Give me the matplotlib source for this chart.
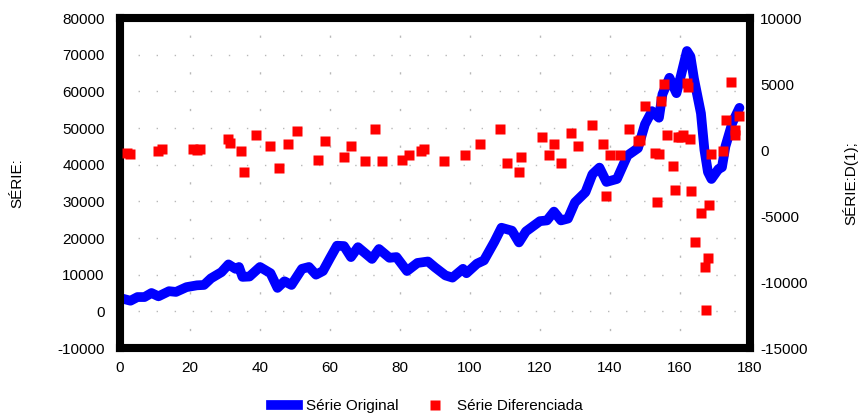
import matplotlib
matplotlib.use("Agg")
import matplotlib.pyplot as plt
from matplotlib.lines import Line2D

plt.rcParams['font.family'] = ['Liberation Sans', 'DejaVu Sans']
plt.rcParams['font.size'] = 11
plt.rcParams['axes.unicode_minus'] = False

# serie original, valores em milhares
x_orig = [0, 1, 3, 5, 7, 9, 11, 14, 16, 19, 22, 24, 26, 29, 31, 33, 34, 35, 37, 40,
          43, 45, 47, 49, 52, 54, 56, 58, 60, 62, 64, 66, 68, 72, 74, 77, 79, 82, 85, 88,
          90, 93, 95, 98, 99, 102, 104, 107, 109, 112, 114, 116, 120, 122, 124, 126, 128,
          130, 133, 135, 137, 139, 142, 145, 148, 150, 152, 154, 155, 157, 159, 160, 162,
          163, 164, 166, 167, 168, 169, 171, 172, 173, 175, 177]
y_orig = [3.6, 3.4, 2.9, 3.9, 3.9, 5.0, 4.1, 5.5, 5.3, 6.6, 7.1, 7.2, 9.0, 10.7, 12.8,
          11.6, 12.1, 9.4, 9.5, 12.1, 10.4, 6.4, 8.2, 7.2, 11.6, 12.1, 10.0, 11.0, 14.5,
          17.9, 17.8, 14.8, 17.5, 14.3, 17.0, 14.6, 14.8, 11.0, 13.2, 13.6, 12.0, 9.8, 9.2,
          11.6, 10.4, 13.0, 13.9, 19.0, 22.8, 22.0, 18.8, 21.8, 24.6, 24.8, 27.2, 24.8, 25.3,
          29.7, 32.5, 37.4, 39.2, 35.3, 36.1, 42.5, 44.5, 51.0, 54.6, 52.8, 59.2, 63.7, 59.5,
          63.2, 71.0, 69.5, 63.5, 54.0, 44.0, 38.0, 36.1, 38.8, 39.3, 45.0, 51.5, 55.5]

# serie diferenciada, valores em milhares
x_dif = [2, 3, 11, 12, 21, 22, 23, 31, 31.5, 34.5, 35.5, 39, 43, 45.5, 48, 50.5, 56.5,
         58.5, 64, 66, 70, 73, 75, 80.5, 82.5, 86, 87, 92.5, 98.5, 103, 108.5, 110.5, 114,
         114.5, 120.5, 122.5, 124, 126, 129, 131, 135, 138, 139, 140, 143, 145.5, 148, 148.7,
         150, 153, 153.5, 154, 154.5, 155.5, 156.3, 158, 158.6, 159.4, 160.4, 161, 162,
         162.4, 163, 163.3, 164.3, 166, 167.3, 167.5, 168, 168.4, 169, 172.2, 173.1, 174.6,
         175.6, 175.8, 176.8]
y_dif = [-0.2, -0.3, -0.1, 0.1, 0.1, 0.0, 0.1, 0.8, 0.55, -0.05, -1.7, 1.1, 0.3, -1.4,
         0.45, 1.45, -0.75, 0.7, -0.55, 0.3, -0.8, 1.6, -0.8, -0.75, -0.35, -0.05, 0.1,
         -0.8, -0.4, 0.45, 1.6, -0.95, -1.7, -0.55, 0.95, -0.4, 0.45, -0.95, 1.3, 0.3, 1.9,
         0.45, -3.5, -0.4, -0.4, 1.6, 0.7, 0.75, 3.3, -0.2, -3.95, -0.3, 3.7, 5.0, 1.1,
         -1.2, -3.0, 0.95, 1.0, 1.1, 5.1, 4.8, 0.85, -3.1, -7.0, -4.8, -8.85, -12.1, -8.2,
         -4.2, -0.3, -0.05, 2.3, 5.15, 1.1, 1.5, 2.55]

y_orig = [v * 1000 for v in y_orig]
y_dif = [v * 1000 for v in y_dif]

fig = plt.figure(figsize=(8.62, 4.15), dpi=100)
ax = fig.add_axes([0.1392, 0.1614, 0.7308, 0.7952])
ax2 = ax.twinx()

ax.plot(x_orig, y_orig, color='#0000ff', lw=7, solid_joinstyle='round',
        solid_capstyle='round', zorder=3)
ax2.plot(x_dif, y_dif, 's', color='#ff0000', ms=7.3, mec='none', zorder=4)

ax.set_xlim(0, 180)
ax.set_ylim(-10000, 80000)
ax2.set_ylim(-15000, 10000)
ax.set_xticks(range(0, 181, 20))
ax.set_yticks(range(-10000, 80001, 10000))
ax2.set_yticks(range(-15000, 10001, 5000))

# grade pontilhada
for yv in range(-10000, 80001, 10000):
    ax.axhline(yv, color='#b8b8b8', lw=1, ls=(0, (1.0, 12.0)), zorder=1)
for xv in range(20, 180, 20):
    ax.axvline(xv, color='#b8b8b8', lw=1, ls=(13.9, (1.6, 24.8)), zorder=1)

for a in (ax, ax2):
    for s in a.spines.values():
        s.set_linewidth(5.8)
        s.set_color('black')
    a.tick_params(length=0)
ax.tick_params(axis='y', pad=11)
ax.tick_params(axis='x', pad=9)
ax2.tick_params(axis='y', pad=7.5)

ax.set_ylabel('SÉRIE:', labelpad=24)
ax2.set_ylabel('SÉRIE:D(1);', labelpad=25, rotation=90)

handles = [Line2D([], [], color='#0000ff', lw=7),
           Line2D([], [], color='#ff0000', marker='s', ls='none', ms=7.3, mec='none')]
fig.legend(handles, ['Série Original', 'Série Diferenciada'], loc='center',
           bbox_to_anchor=(0.495, 0.022), ncol=2, frameon=False,
           handlelength=1.75, handletextpad=0.55, columnspacing=1.5, numpoints=1)

fig.savefig('out.png', dpi=100)
